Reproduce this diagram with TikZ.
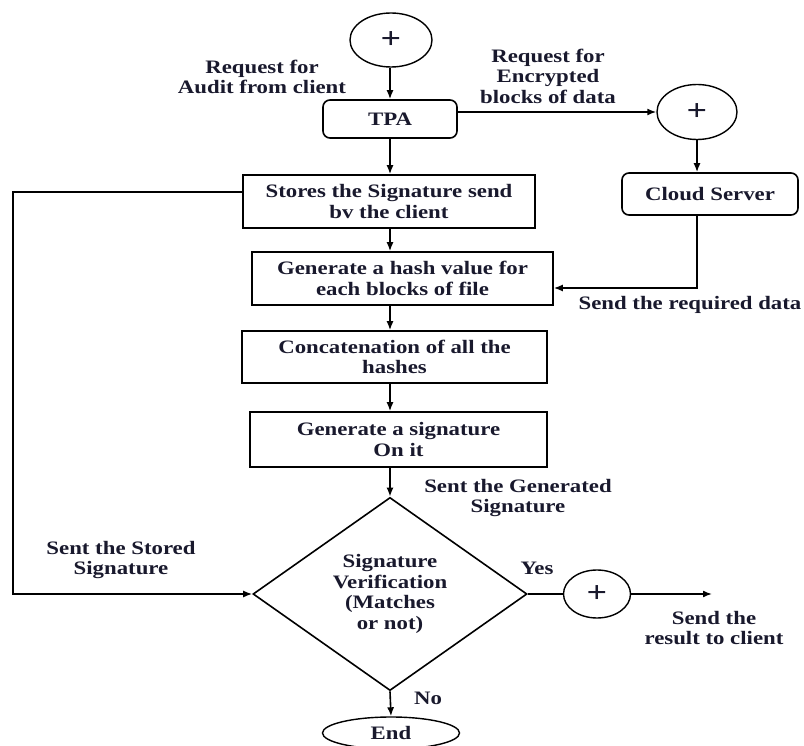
\documentclass[tikz,border=0pt]{standalone}
\usepackage{fontspec}
\setmainfont{Liberation Serif}[FakeStretch=1.2]
\usetikzlibrary{shapes.geometric,arrows.meta}
\definecolor{ink}{RGB}{25,25,45}
\begin{document}
\begin{tikzpicture}[x=1pt,y=-1pt,
  every node/.style={font=\fontsize{19}{20.5}\selectfont\bfseries, text=ink},
  proc/.style={draw,line width=1.6pt,rectangle,align=center,inner sep=0pt},
  rproc/.style={proc,rounded corners=7pt},
  oval/.style={draw,line width=1.4pt,ellipse,inner sep=0pt},
  plus/.style={font=\fontsize{30}{30}\selectfont\bfseries},
  lbl/.style={align=center,inner sep=0pt},
  conn/.style={line width=1.6pt},
  arr/.style={conn,-{Latex[length=9pt,width=7pt]}}]
\useasboundingbox (0,0) rectangle (804,746);
\fill[white] (0,0) rectangle (804,746);

\coordinate (col) at (390,0);
\node[oval,plus,minimum width=82pt,minimum height=54pt] (start) at (391,40) {+};
\node[rproc,minimum width=134pt,minimum height=38pt] (tpa) at (390,119) {TPA};
\node[oval,plus,minimum width=80pt,minimum height=55pt] (enc) at (697,112) {+};
\node[rproc,minimum width=176pt,minimum height=42pt] (cloud) at (710,194) {Cloud Server};
\node[proc,minimum width=292pt,minimum height=53pt] (stores) at (389,201.5) {Stores the Signature send\\bv the client};
\node[proc,minimum width=301pt,minimum height=53pt] (hash) at (402.5,278.5) {Generate a hash value for\\each blocks of file};
\node[proc,minimum width=305pt,minimum height=52pt] (concat) at (394.5,357) {Concatenation of all the\\hashes};
\node[proc,minimum width=297pt,minimum height=55pt] (gensig) at (398.5,439.5) {Generate a signature\\On it};
\node[diamond,draw,line width=1.6pt,minimum width=274pt,minimum height=178pt,inner sep=0pt,align=center] (ver) at (390,594) {Signature\\Verification\\(Matches\\or not)};
\node[oval,plus,minimum width=67pt,minimum height=48pt] (yes) at (597,594) {+};
\node[oval,minimum width=137pt,minimum height=32pt] (end) at (391,733) {End};

\coordinate (res) at (712,594);
\coordinate (l1) at (13,192);
\coordinate (l2) at (13,594);
\coordinate (c1) at (697,288);

\draw[arr] (start.south -| col) -- (tpa.north -| col);
\draw[arr] (tpa.south -| col) -- (stores.north -| col);
\draw[arr] (stores.south -| col) -- (hash.north -| col);
\draw[arr] (hash.south -| col) -- (concat.north -| col);
\draw[arr] (concat.south -| col) -- (gensig.north -| col);
\draw[arr] (gensig.south -| col) -- (ver.north);
\draw[arr] (ver.south) -- (end.north);
\draw[conn] (ver.east) -- (yes.west);
\draw[arr] (yes.east) -- (res);
\draw[arr] (tpa.east |- enc.west) -- (enc.west);
\draw[arr] (enc.south) -- (enc.south |- cloud.north);
\draw[arr] (cloud.south -| c1) -- (c1) -- (c1 -| hash.east);
\draw[arr] (stores.west |- l1) -- (l1) -- (l2) -- (ver.west);

\node[lbl] (laudit) at (262,77) {Request for\\Audit from client};
\node[lbl] (lenc) at (548,76) {Request for\\Encrypted\\blocks of data};
\node[lbl] (lsend) at (690,305) {Send the required data};
\node[lbl] (lgen) at (518,498) {Sent the Generated\\Signature};
\node[lbl] (lstored) at (121,560) {Sent the Stored\\Signature};
\node[lbl] (lyes) at (537,568) {Yes};
\node[lbl] (lres) at (714,628) {Send the\\result to client};
\node[lbl] (lno) at (428,698) {No};
\end{tikzpicture}
\end{document}
